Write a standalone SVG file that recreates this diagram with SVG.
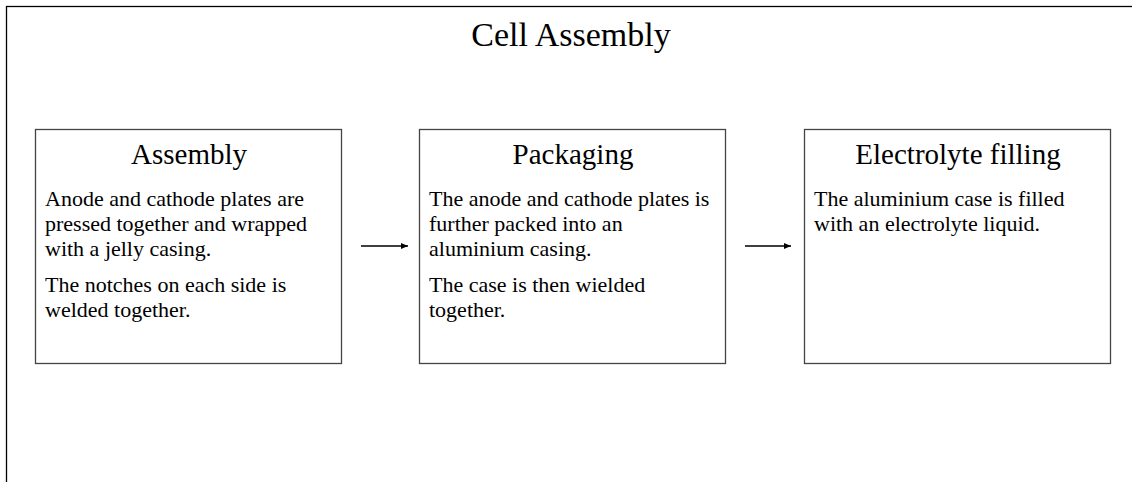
<svg xmlns="http://www.w3.org/2000/svg" width="1132" height="482" viewBox="0 0 1132 482">
<style>
.box{fill:#fff;stroke:#444;stroke-width:1.3}
.t{font-family:"Liberation Serif",serif;fill:#000}
.h{font-size:29px;text-anchor:middle}
.b{font-size:22px}
.c{stroke:#000;stroke-width:1.3;fill:none}
</style>
<defs>
<marker id="ah" markerWidth="8" markerHeight="8" refX="7" refY="4" orient="auto" markerUnits="userSpaceOnUse">
<path d="M0,1 L7,4 L0,7 Z" fill="#000"/>
</marker>
</defs>
<rect x="0" y="0" width="1132" height="482" fill="#fff"/>
<rect x="6.5" y="6.5" width="1200" height="600" fill="none" stroke="#000" stroke-width="1.3"/>
<text class="t" x="571" y="46" font-size="34" text-anchor="middle">Cell Assembly</text>
<g id="node-assembly">
<rect class="box" x="35.5" y="129.5" width="306" height="234"/>
<text class="t h" x="189" y="164">Assembly</text>
<text class="t b" x="45" y="206">Anode and cathode plates are</text>
<text class="t b" x="45" y="231">pressed together and wrapped</text>
<text class="t b" x="45" y="256">with a jelly casing.</text>
<text class="t b" x="45" y="292">The notches on each side is</text>
<text class="t b" x="45" y="317">welded together.</text>
</g>
<g id="node-packaging">
<rect class="box" x="419.5" y="129.5" width="306" height="234"/>
<text class="t h" x="573" y="164">Packaging</text>
<text class="t b" x="429" y="206">The anode and cathode plates is</text>
<text class="t b" x="429" y="231">further packed into an</text>
<text class="t b" x="429" y="256">aluminium casing.</text>
<text class="t b" x="429" y="292">The case is then wielded</text>
<text class="t b" x="429" y="317">together.</text>
</g>
<g id="node-electrolyte">
<rect class="box" x="804.5" y="129.5" width="306" height="234"/>
<text class="t h" x="958" y="164">Electrolyte filling</text>
<text class="t b" x="814" y="206">The aluminium case is filled</text>
<text class="t b" x="814" y="231">with an electrolyte liquid.</text>
</g>
<g id="connectors">
<line class="c" x1="361" y1="246" x2="408" y2="246" marker-end="url(#ah)"/>
<line class="c" x1="745" y1="246" x2="791" y2="246" marker-end="url(#ah)"/>
</g>
</svg>
